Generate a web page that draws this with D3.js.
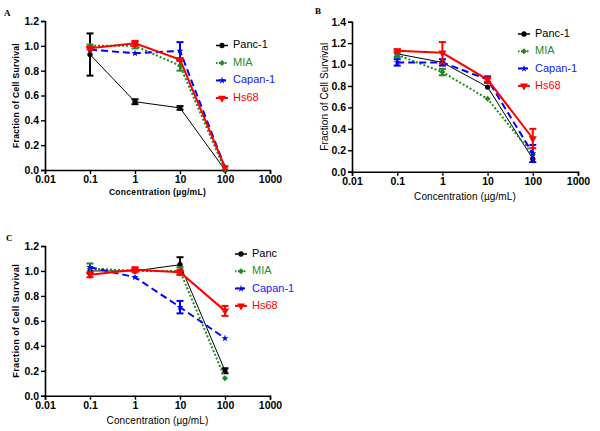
<!DOCTYPE html>
<html><head><meta charset="utf-8">
<script src="https://cdn.jsdelivr.net/npm/d3@7"></script>
<style>body{margin:0;background:#fff}svg{display:block}</style>
</head><body><svg id="c" width="600" height="431"></svg>
<script>
const concentrations = [0.1, 1, 10, 100];
const xTicks = [0.01, 0.1, 1, 10, 100, 1000];
const xTickLabels = ["0.01", "0.1", "1", "10", "100", "1000"];

// Panel A
const namesA = ["Panc-1", "MIA", "Capan-1", "Hs68"];
const pancA = [0.93, 0.55, 0.50, 0.00];
const pancAErr = [0.17, 0.02, 0.015, 0.0];
const miaA = [1.00, 1.00, 0.84, 0.00];
const miaAErr = [0.01, 0.02, 0.04, 0.0];
const capanA = [0.97, 0.94, 0.96, 0.02];
const capanAErr = [0.0, 0.0, 0.07, 0.0];
const hsA = [0.98, 1.02, 0.89, 0.02];
const hsAErr = [0.01, 0.02, 0.01, 0.0];

// Panel B
const namesB = ["Panc-1", "MIA", "Capan-1", "Hs68"];
const pancB = [1.10, 1.02, 0.79, 0.12];
const pancBErr = [0.0, 0.0, 0.0, 0.0];
const miaB = [1.09, 0.93, 0.68, 0.16];
const miaBErr = [0.02, 0.03, 0.0, 0.0];
const capanB = [1.02, 1.02, 0.86, 0.17];
const capanBErr = [0.03, 0.03, 0.03, 0.08];
const hsB = [1.13, 1.11, 0.86, 0.31];
const hsBErr = [0.01, 0.10, 0.02, 0.09];

// Panel C
const namesC = ["Panc", "MIA", "Capan-1", "Hs68"];
const pancC = [1.00, 1.00, 1.05, 0.20];
const pancCErr = [0.0, 0.0, 0.06, 0.02];
const miaC = [1.02, 1.00, 1.00, 0.14];
const miaCErr = [0.04, 0.0, 0.03, 0.0];
const capanC = [1.03, 0.95, 0.71, 0.46];
const capanCErr = [0.0, 0.0, 0.05, 0.0];
const hsC = [0.97, 1.01, 0.99, 0.68];
const hsCErr = [0.02, 0.02, 0.02, 0.04];

const styles = [
  {color:"#000000", text:"#000000", width:1, dash:null, sym:d3.symbolCircle, size:22},
  {color:"#1f8a1f", text:"#2a8a2a", width:2, dash:"2,2", sym:d3.symbolSquare, size:18, rot:45},
  {color:"#0000ff", text:"#1515ff", width:2, dash:"7,4", sym:d3.symbolStar, size:16},
  {color:"#ff0000", text:"#ff0000", width:2, dash:null, sym:d3.symbolTriangle, size:28, rot:180}
];

const svg = d3.select("#c");
const FONT = "Liberation Sans, Arial, sans-serif";

function panel(cfg){
  const g = svg.append("g");
  const x = d3.scaleLog().domain([0.01,1000]).range([cfg.x0, cfg.x1]);
  const y = d3.scaleLinear().domain([0, cfg.ymax]).range([cfg.y0, cfg.y1]);
  const yAxis = d3.axisLeft(y).tickValues(d3.range(0, cfg.ymax+1e-9, 0.2)).tickFormat(d3.format(".1f")).tickSizeOuter(0).tickSize(4).tickPadding(2);
  const ya = g.append("g").attr("transform",`translate(${cfg.x0},0)`).call(yAxis);
  const xAxis = d3.axisBottom(x).tickValues(xTicks).tickFormat((d,i)=>xTickLabels[i]).tickSizeOuter(0).tickSize(4).tickPadding(2);
  const xa = g.append("g").attr("transform",`translate(0,${cfg.y0})`).call(xAxis);
  [ya, xa].forEach(a=>{
    a.selectAll("path").attr("stroke","#000").attr("stroke-width",1.6);
    a.selectAll("line").attr("stroke","#000").attr("stroke-width",1.4);
    a.selectAll("text").attr("font-family",FONT).attr("font-weight","bold").attr("font-size",10.5).attr("fill","#000");
  });
  const xt = cfg.xTitle, yt = cfg.yTitle;
  g.append("text").attr("x",(cfg.x0+cfg.x1)/2).attr("y",cfg.xTitleY).attr("text-anchor","middle")
    .attr("dominant-baseline","middle").attr("font-family",FONT).attr("font-weight",xt.bold?"bold":"normal").attr("font-size",xt.size)
    .attr("letter-spacing",xt.ls).text("Concentration  (\u00b5g/mL)");
  g.append("text").attr("transform",`translate(${cfg.yTitleX},${(cfg.y0+cfg.y1)/2}) rotate(-90)`).attr("text-anchor","middle")
    .attr("dominant-baseline","middle").attr("font-family",FONT).attr("font-weight",yt.bold?"bold":"normal").attr("font-size",yt.size)
    .attr("letter-spacing",yt.ls).text("Fraction of Cell Survival");
  g.append("text").attr("x",cfg.lx).attr("y",cfg.ly).attr("font-family","Liberation Serif, Times New Roman, serif")
    .attr("font-weight","bold").attr("font-size",9).text(cfg.letter);
  cfg.series.forEach((s,i)=>{
    const st = styles[i];
    const pts = concentrations.map((c,j)=>({c, v:s.vals[j], e:s.errs[j]}));
    const line = d3.line().x(d=>x(d.c)).y(d=>y(d.v));
    g.append("path").datum(pts).attr("d",line).attr("fill","none").attr("stroke",st.color)
      .attr("stroke-width",st.width).attr("stroke-dasharray",st.dash);
    pts.filter(d=>d.e>0).forEach(d=>{
      const cx = x(d.c), t = y(d.v+d.e), b = y(d.v-d.e);
      g.append("line").attr("x1",cx).attr("x2",cx).attr("y1",t).attr("y2",b).attr("stroke",st.color).attr("stroke-width",2);
      [t,b].forEach(yy=>g.append("line").attr("x1",cx-3.5).attr("x2",cx+3.5).attr("y1",yy).attr("y2",yy).attr("stroke",st.color).attr("stroke-width",2));
    });
    const sym = d3.symbol().type(st.sym).size(st.size);
    g.selectAll(null).data(pts).enter().append("path").attr("d",sym)
      .attr("transform",d=>`translate(${x(d.c)},${y(d.v)})${st.rot?" rotate("+st.rot+")":""}`).attr("fill",st.color);
    const ly = cfg.legY + i*cfg.legStep;
    g.append("line").attr("x1",cfg.legX).attr("x2",cfg.legX+12).attr("y1",ly).attr("y2",ly).attr("stroke",st.color)
      .attr("stroke-width",st.width === 1 ? 1.5 : 2).attr("stroke-dasharray", st.dash ? (i===1?"1.5,1.5":"4,2") : null);
    g.append("path").attr("d",sym).attr("transform",`translate(${cfg.legX+6},${ly})${st.rot?" rotate("+st.rot+")":""}`).attr("fill",st.color);
    g.append("text").attr("x",cfg.legX+17).attr("y",ly).attr("dominant-baseline","middle").attr("font-family",FONT)
      .attr("font-size",11).attr("fill",st.text).text(s.name);
  });
}

const boldTitle = {bold:true, size:8.5, ls:0.3};
const boldTitleC = {bold:true, size:9.2, ls:0.35};
const plainTitle = {bold:false, size:10, ls:0.1};

panel({letter:"A", lx:4, ly:16, x0:45, x1:270, y0:170, y1:21, ymax:1.2, xTitleY:193, yTitleX:17,
  xTitle:boldTitle, yTitle:boldTitle, legX:216, legY:45.5, legStep:17.5,
  series:[{name:namesA[0],vals:pancA,errs:pancAErr},{name:namesA[1],vals:miaA,errs:miaAErr},
          {name:namesA[2],vals:capanA,errs:capanAErr},{name:namesA[3],vals:hsA,errs:hsAErr}]});
panel({letter:"B", lx:315, ly:14, x0:352, x1:578, y0:171.7, y1:21.7, ymax:1.4, xTitleY:197, yTitleX:325,
  xTitle:plainTitle, yTitle:plainTitle, legX:518, legY:34, legStep:17.3,
  series:[{name:namesB[0],vals:pancB,errs:pancBErr},{name:namesB[1],vals:miaB,errs:miaBErr},
          {name:namesB[2],vals:capanB,errs:capanBErr},{name:namesB[3],vals:hsB,errs:hsBErr}]});
panel({letter:"C", lx:6, ly:241, x0:45, x1:270, y0:395.7, y1:246, ymax:1.2, xTitleY:421, yTitleX:17,
  xTitle:plainTitle, yTitle:boldTitleC, legX:235, legY:254, legStep:17.3,
  series:[{name:namesC[0],vals:pancC,errs:pancCErr},{name:namesC[1],vals:miaC,errs:miaCErr},
          {name:namesC[2],vals:capanC,errs:capanCErr},{name:namesC[3],vals:hsC,errs:hsCErr}]});
</script></body></html>
